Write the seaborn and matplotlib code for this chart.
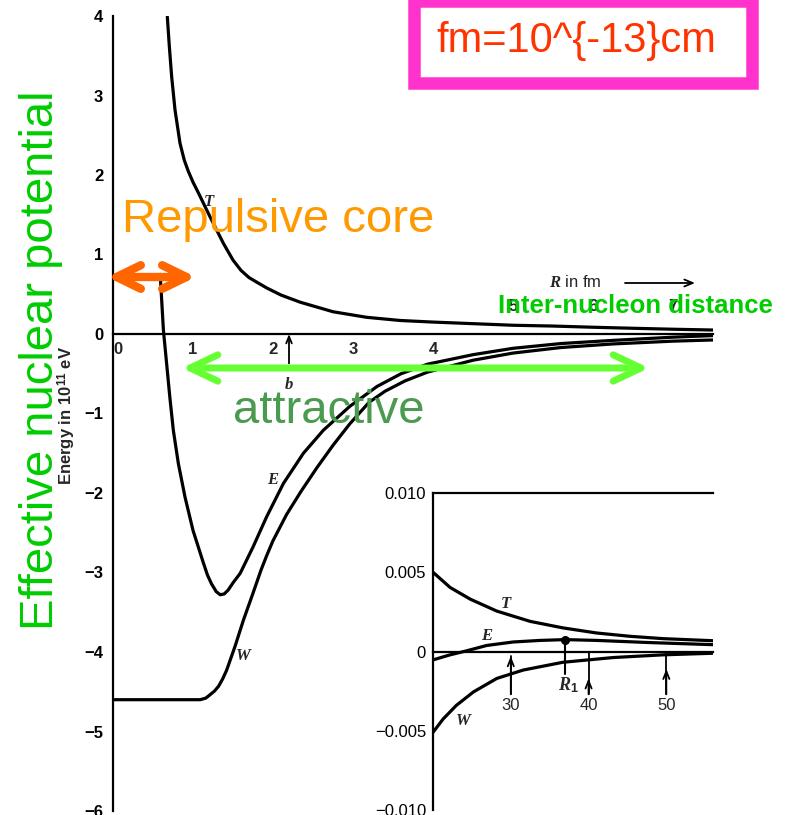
import matplotlib
matplotlib.use("Agg")
import matplotlib.pyplot as plt
import seaborn as sns
import pandas as pd
from matplotlib.patches import FancyArrowPatch, Rectangle

# ---------------- data ----------------
R_T = [0.679, 0.704, 0.733, 0.775, 0.8375, 0.89, 0.94, 1.0, 1.07, 1.21, 1.38, 1.5, 1.6, 1.7, 1.8, 1.92, 2.1,
       2.34, 2.75, 3.17, 3.59, 4.0, 4.5, 5.0, 5.5, 6.0, 6.5, 7.0, 7.5]
T = [3.99, 3.62, 3.24, 2.82, 2.40, 2.19, 2.05, 1.91, 1.77, 1.48, 1.14, 0.93, 0.80, 0.71, 0.65, 0.58, 0.49,
     0.40, 0.28, 0.21, 0.17, 0.15, 0.13, 0.11, 0.10, 0.085, 0.072, 0.06, 0.05]

R_E = [0.59, 0.63, 0.67, 0.71, 0.754, 0.817, 0.90, 1.00, 1.13, 1.18, 1.23, 1.29, 1.34, 1.39, 1.44, 1.5, 1.59,
       1.75, 1.92, 2.13, 2.38, 2.63, 2.96, 3.3, 3.6, 3.93, 4.5, 5.0, 5.6, 6.25, 7.0, 7.5]
E = [0.75, 0.05, -0.37, -0.79, -1.21, -1.63, -2.05, -2.47, -2.88, -3.03, -3.14, -3.24, -3.28, -3.27, -3.22,
     -3.13, -3.01, -2.68, -2.30, -1.88, -1.50, -1.21, -0.91, -0.66, -0.50, -0.38, -0.26, -0.18, -0.12, -0.08,
     -0.04, -0.02]

R_W = [0.0, 1.09, 1.16, 1.21, 1.27, 1.32, 1.37, 1.42, 1.525, 1.63, 1.75, 1.85, 1.92, 2.0, 2.17, 2.35, 2.55,
       2.75, 2.96, 3.2, 3.4, 3.65, 3.93, 4.5, 5.0, 5.6, 6.25, 7.0, 7.5]
W = [-4.6, -4.6, -4.58, -4.54, -4.49, -4.43, -4.34, -4.23, -3.93, -3.6, -3.26, -2.97, -2.79, -2.6, -2.27,
     -1.98, -1.68, -1.40, -1.13, -0.86, -0.72, -0.59, -0.48, -0.33, -0.24, -0.17, -0.125, -0.09, -0.075]

inset_R_T = [20.0, 22.2, 24.8, 28.2, 32.5, 36.7, 41.0, 45.3, 49.6, 56.0]
inset_T = [0.0050, 0.00404, 0.0033, 0.00255, 0.0019, 0.00149, 0.00117, 0.00096, 0.00081, 0.00068]
inset_R_E = [20.0, 22.2, 24.3, 26.9, 30.3, 33.8, 37.0, 41.0, 47.5, 56.0]
inset_E = [-0.00053, -0.00021, 0.00004, 0.00038, 0.0006, 0.0007, 0.00075, 0.0007, 0.00057, 0.00043]
inset_R_W = [20.0, 21.3, 23.0, 25.2, 28.2, 31.6, 36.7, 43.2, 49.6, 56.0]
inset_W = [-0.0051, -0.00426, -0.0034, -0.00255, -0.0017, -0.00117, -0.00068, -0.00038, -0.00021, -0.00011]

main_yticks = [-6, -5, -4, -3, -2, -1, 0, 1, 2, 3, 4]
main_xticks = [1, 2, 2.2, 3, 4, 5, 6, 7]
labels_below = [0, 1, 2, 3, 4]
labels_above = [5, 6, 7]
inset_yticks = [-0.010, -0.005, 0.0, 0.005, 0.010]
inset_ylabels = ["\u22120.010", "\u22120.005", "0", "0.005", "0.010"]
inset_marks = [30, 40, 50]
b_pos = 2.2
R1_pos, R1_val = 37.0, 0.00075

# ---------------- style ----------------
sns.set_style("white")
plt.rcParams["font.family"] = ["Liberation Sans", "DejaVu Sans"]
plt.rcParams["mathtext.fontset"] = "custom"
plt.rcParams["mathtext.rm"] = "Liberation Sans:bold"
plt.rcParams["mathtext.it"] = "Liberation Serif:italic:bold"
plt.rcParams["mathtext.bf"] = "Liberation Sans:bold"

WPX, HPX = 788, 815
fig = plt.figure(figsize=(WPX / 100, HPX / 100), dpi=100)
fig.patch.set_facecolor("white")


def rect(l, t, r, b):
    return [l / WPX, 1 - b / HPX, (r - l) / WPX, (b - t) / HPX]


serif = dict(family="Liberation Serif", style="italic", weight="bold")

# ---------------- main axes ----------------
ax = fig.add_axes(rect(113, 16, 713, 811))
ax.set_xlim(0, 7.5)
ax.set_ylim(-6, 4)
ax.patch.set_alpha(0)
for s in ["top", "right"]:
    ax.spines[s].set_visible(False)
ax.spines["bottom"].set_position(("data", 0))
for s in ["left", "bottom"]:
    ax.spines[s].set_linewidth(1.6)
    ax.spines[s].set_color("black")
ax.set_yticks(main_yticks)
ax.set_yticklabels([f"{v}".replace("-", "\u2212") for v in main_yticks], fontweight="bold")
ax.tick_params(axis="y", direction="in", length=10, width=1.5, labelsize=12, pad=7, colors="black")
ax.set_xticks(main_xticks)
ax.set_xticklabels([])
ax.tick_params(axis="x", direction="in", length=9, width=1.4, colors="black")
for v in labels_below:
    ax.text(v + (0.06 if v == 0 else 0), -0.2, str(v), ha="center", va="center", fontsize=12, fontweight="bold")
for v in labels_above:
    ax.text(v, 0.35, str(v), ha="center", va="center", fontsize=12, fontweight="bold")

for xs, ys in [(R_T, T), (R_E, E), (R_W, W)]:
    sns.lineplot(x=xs, y=ys, ax=ax, color="black", lw=2.3, sort=False, estimator=None)

ax.text(1.20, 1.66, "T", ha="center", va="center", fontsize=12, **serif)
ax.text(1.99, -1.84, "E", ha="center", va="center", fontsize=12, **serif)
ax.text(1.63, -4.05, "W", ha="center", va="center", fontsize=12, **serif)
ax.annotate("", xy=(b_pos, 0.0), xytext=(b_pos, -0.37),
            arrowprops=dict(arrowstyle="->,head_length=0.5,head_width=0.2", lw=1.3, color="black",
                            shrinkA=0, shrinkB=0))
ax.text(b_pos, -0.64, "b", ha="center", va="center", fontsize=12, **serif)

# ---------------- inset axes ----------------
axi = fig.add_axes(rect(433, 493, 713, 810))
axi.set_xlim(20, 56)
axi.set_ylim(-0.010, 0.010)
axi.patch.set_alpha(0)
axi.spines["right"].set_visible(False)
axi.spines["bottom"].set_position(("data", 0))
for s in ["left", "bottom", "top"]:
    axi.spines[s].set_linewidth(1.6)
    axi.spines[s].set_color("black")
axi.set_xticks([])
axi.set_yticks(inset_yticks)
axi.set_yticklabels(inset_ylabels)
axi.tick_params(axis="y", direction="in", length=10, width=1.5, labelsize=12, pad=5, colors="black")

for xs, ys in [(inset_R_T, inset_T), (inset_R_E, inset_E), (inset_R_W, inset_W)]:
    sns.lineplot(x=xs, y=ys, ax=axi, color="black", lw=2.3, sort=False, estimator=None)
axi.set_xlabel("")
axi.set_ylabel("")

axi.text(29.4, 0.0030, "T", ha="center", va="center", fontsize=12, **serif)
axi.text(26.9, 0.00095, "E", ha="center", va="center", fontsize=12, **serif)
axi.text(23.9, -0.00436, "W", ha="center", va="center", fontsize=12, **serif)

line_top = {30: -0.0003, 40: 0.0, 50: 0.0}
head_tip = {30: -0.0003, 40: -0.0017, 50: -0.0011}
for m in inset_marks:
    axi.plot([m, m], [line_top[m], -0.0027], color="black", lw=1.3)
    axi.annotate("", xy=(m, head_tip[m]), xytext=(m, -0.0027),
                 arrowprops=dict(arrowstyle="->,head_length=0.55,head_width=0.22", lw=1.3, color="black",
                                 shrinkA=0, shrinkB=0))
    axi.text(m, -0.0034, str(m), ha="center", va="center", fontsize=12)

axi.plot([R1_pos, R1_pos], [R1_val, -0.0014], color="black", lw=1.5)
axi.scatter([R1_pos], [R1_val], s=30, color="black", zorder=5)
axi.text(R1_pos + 0.4, -0.0021, "$R_1$", ha="center", va="center", fontsize=13)

# ---------------- overlay annotations (pixel frame) ----------------
ov = fig.add_axes([0, 0, 1, 1])
ov.set_xlim(0, WPX)
ov.set_ylim(HPX, 0)
ov.axis("off")
ov.patch.set_alpha(0)

ov.add_patch(Rectangle((414.5, 1), 338, 82, fill=False, lw=9, ec="#ff33cc"))
ov.text(576, 52, "fm=10^{-13}cm", ha="center", va="baseline", fontsize=30, color="#ff3300")

ov.text(122, 232, "Repulsive core", ha="left", va="baseline", fontsize=34, color="#ff9900")
ov.text(233, 423, "attractive", ha="left", va="baseline", fontsize=34, color="#4a9a4f")
ov.text(53, 360, "Effective nuclear potential", ha="center", va="baseline", rotation=90,
        rotation_mode="anchor", fontsize=34, color="#00cc00")
ov.text(72, 415, "Energy in 10$^{11}$ eV", ha="center", va="baseline", rotation=90,
        rotation_mode="anchor", fontsize=12, fontweight="bold")
ov.text(575, 287, "$R$ in fm", ha="center", va="baseline", fontsize=12)
ov.add_patch(FancyArrowPatch((625, 283), (695, 283), arrowstyle="->,head_length=0.6,head_width=0.25",
                             lw=1.3, color="black", shrinkA=0, shrinkB=0, mutation_scale=10))
ov.text(498, 313, "Inter-nucleon distance", ha="left", va="baseline", fontsize=18.5,
        fontweight="bold", color="#00cc00")

ov.add_patch(FancyArrowPatch((107, 277), (196, 277), arrowstyle="<->,head_length=1.75,head_width=0.85",
                             lw=6, color="#ff6600", shrinkA=0, shrinkB=0, mutation_scale=10,
                             capstyle="round", joinstyle="round"))
ov.add_patch(FancyArrowPatch((182, 368), (649, 368), arrowstyle="<->,head_length=2.0,head_width=0.95",
                             lw=5, color="#66ff33", shrinkA=0, shrinkB=0, mutation_scale=10,
                             capstyle="round", joinstyle="round"))

fig.savefig("out.png", dpi=100, facecolor="white")
